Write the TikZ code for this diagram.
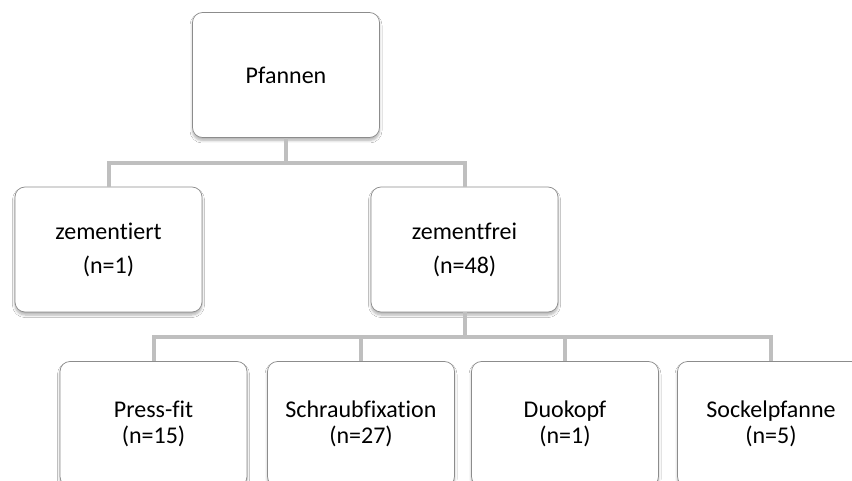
\documentclass[tikz,border=0pt]{standalone}
\usepackage{fontspec}
\setmainfont{Carlito}[Ligatures={NoCommon}, RawFeature={-liga;-calt}]
\usetikzlibrary{shadows.blur}
\definecolor{linkgray}{RGB}{191,191,191}
\definecolor{framegray}{RGB}{140,140,140}
\tikzset{
  box/.style={draw=framegray, line width=0.7pt, fill=white, rounded corners=10pt,
    minimum width=187pt, minimum height=125pt, inner sep=2pt, align=center,
    blur shadow={shadow xshift=0pt, shadow yshift=-3pt, shadow blur radius=2.5pt,
      shadow blur steps=6, shadow opacity=30}},
  topbox/.style={box, font=\fontsize{24}{34}\selectfont},
  leafbox/.style={box, font=\fontsize{24}{26}\selectfont},
  link/.style={draw=linkgray, line width=4pt}
}
\begin{document}
\begin{tikzpicture}[x=1pt, y=-1pt]
\useasboundingbox (0,0) rectangle (852,481);
\clip (0,0) rectangle (852,481);
\fill[white] (0,0) rectangle (852,481);

% tree nodes
\node[topbox] (pf) at (286,75) {Pfannen};
\node[topbox] (zt) at (108.5,249.5) {zementiert\\(n=1)};
\node[topbox] (zf) at (464.5,249.5) {zementfrei\\(n=48)};
\node[leafbox] (pr) at (153.5,424) {Press-fit\\(n=15)};
\node[leafbox] (sf) at (361,424) {Schraubfixation\\(n=27)};
\node[leafbox] (dk) at (565,424) {Duokopf\\(n=1)};
\node[leafbox] (sp) at (771,424) {Sockelpfanne\\(n=5)};

% junction points of the connectors
\coordinate (j1) at (286,163);
\coordinate (j2) at (464.5,337);

% connectors
\draw[link] (pf.south) -- (j1);
\draw[link] (zt.north) |- (j1) -| (zf.north);
\draw[link] (zf.south) -- (j2);
\draw[link] (pr.north) |- (j2) -| (sp.north);
\draw[link] (sf.north) -- (sf.north |- j2);
\draw[link] (dk.north) -- (dk.north |- j2);
\end{tikzpicture}
\end{document}
